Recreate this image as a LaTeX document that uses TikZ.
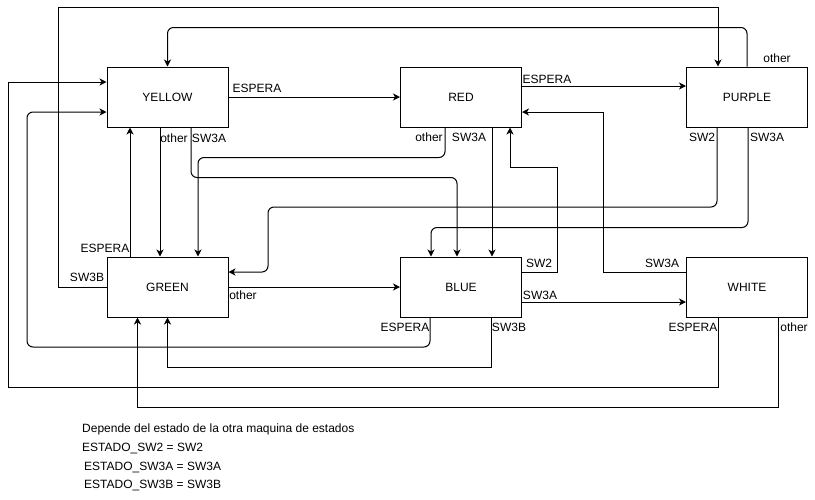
\documentclass[tikz,border=0pt]{standalone}
\usepackage{fontspec}
\setmainfont{Liberation Sans}
\usetikzlibrary{arrows.meta,calc}
\tikzset{
  state/.style={draw, line width=1pt, minimum width=121pt, minimum height=60pt, inner sep=0pt, font=\fontsize{12}{14}\selectfont},
  arr/.style={draw, line width=1pt, -{Stealth[length=7pt,width=7pt,inset=2pt]}},
  rc/.style={rounded corners=6pt},
  lbl/.style={inner sep=0pt, font=\fontsize{12}{14}\selectfont},
  note/.style={inner sep=0pt, anchor=west, font=\fontsize{12}{14}\selectfont}
}
\begin{document}
\begin{tikzpicture}[x=1pt,y=-1pt]
\useasboundingbox[fill=white] (0,0) rectangle (815,499);
% states
\node[state] (yellow) at (167.5,97) {YELLOW};
\node[state] (red) at (461,97) {RED};
\node[state] (purple) at (747,97) {PURPLE};
\node[state] (green) at (167.5,287) {GREEN};
\node[state] (blue) at (461,287) {BLUE};
\node[state] (white) at (747,287) {WHITE};
% transitions
\draw[arr] (yellow.east) -- (red.west);
\draw[arr] ([yshift=11pt]red.east) -- ([yshift=11pt]purple.west);
\draw[arr,rc] (purple.north) -- ++(0,-39) -| (yellow.north);
\draw[arr] (green.west) -| (58,7) -| ([xshift=-29pt]purple.north);
\draw[arr] ([xshift=-29pt]white.south) |- (8,387) |- ([yshift=15pt]yellow.west);
\draw[arr,rc] ([xshift=-31pt]blue.south) |- (27,347) |- ([yshift=-15pt]yellow.west);
\draw[arr] ([xshift=30pt]blue.south) -- ++(0,50) -| (green.south);
\draw[arr] ([xshift=31pt]white.south) -- ++(0,90) -| ([xshift=-30pt]green.south);
\draw[arr] ([xshift=-37.5pt]green.north) -- ([xshift=-37.5pt]yellow.south);
\draw[arr] ([xshift=-7.5pt]yellow.south) -- ([xshift=-7.5pt]green.north);
\draw[arr,rc] ([xshift=23.5pt]yellow.south) -- ++(0,50) -| ([xshift=-4pt]blue.north);
\draw[arr,rc] ([xshift=-16pt]red.south) -- ++(0,30) -| ([xshift=30.5pt]green.north);
\draw[arr] ([xshift=31pt]red.south) -- ([xshift=31pt]blue.north);
\draw[arr] ([yshift=15pt]blue.east) -| (557,167) -| ([xshift=49pt]red.south);
\draw[arr] ([yshift=15pt]white.west) -- ++(-83,0) |- ([yshift=-15pt]red.east);
\draw[arr] ([yshift=-15pt]blue.east) -- ([yshift=-15pt]white.west);
\draw[arr] (green.east) -- (blue.west);
\draw[arr,rc] ([xshift=-30pt]purple.south) |- (268,207) |- ([yshift=15pt]green.east);
\draw[arr,rc] ([xshift=1pt]purple.south) -- ++(0,100) -| ([xshift=-30pt]blue.north);
% labels
\node[lbl] (l1) at (257,88) {ESPERA};
\node[lbl] (l2) at (547,79) {ESPERA};
\node[lbl] (l3) at (777,58) {other};
\node[lbl] (l4) at (87,277) {SW3B};
\node[lbl] (l5) at (693,327) {ESPERA};
\node[lbl] (l6) at (405,327) {ESPERA};
\node[lbl] (l7) at (509,327) {SW3B};
\node[lbl] (l8) at (794,327) {other};
\node[lbl] (l9) at (105,248) {ESPERA};
\node[lbl] (l10) at (174,138) {other};
\node[lbl] (l11) at (209,138) {SW3A};
\node[lbl] (l12) at (429,137) {other};
\node[lbl] (l13) at (469,137) {SW3A};
\node[lbl] (l14) at (702,137) {SW2};
\node[lbl] (l15) at (767,137) {SW3A};
\node[lbl] (l16) at (539,263) {SW2};
\node[lbl] (l17) at (662,263) {SW3A};
\node[lbl] (l18) at (540,295) {SW3A};
\node[lbl] (l19) at (243,295) {other};
% note
\node[note] (n1) at (82,429) {Depende del estado de la otra maquina de estados};
\node[note] (n2) at (82,448) {ESTADO\_SW2 = SW2};
\node[note] (n3) at (84,467) {ESTADO\_SW3A = SW3A};
\node[note] (n4) at (84,485) {ESTADO\_SW3B = SW3B};
\end{tikzpicture}
\end{document}
